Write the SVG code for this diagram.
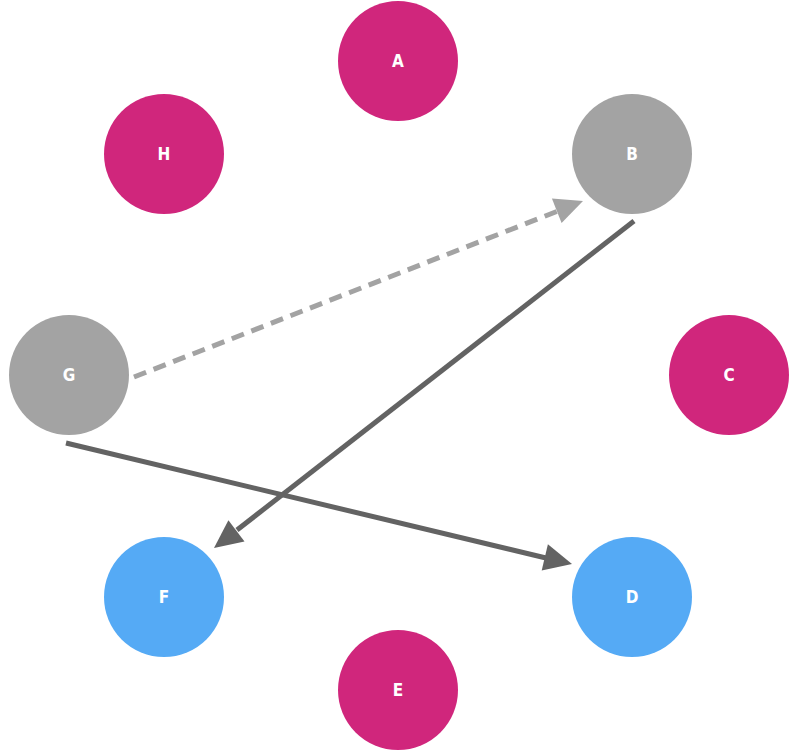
<svg xmlns="http://www.w3.org/2000/svg" width="790" height="751" viewBox="0 0 790 751">
<style>
.pink{fill:#D0267C}
.gray{fill:#A3A3A3}
.blue{fill:#55AAF5}
.lbl{font-family:"DejaVu Sans",sans-serif;font-stretch:condensed;font-weight:bold;font-size:17px;fill:#FFFFFF;text-anchor:middle;dominant-baseline:central}
.solid{stroke:#636363;stroke-width:5;fill:none}
.dash{stroke:#A3A3A3;stroke-width:5;fill:none;stroke-dasharray:13 8}
.hd{fill:#636363}
.hg{fill:#A3A3A3}
</style>
<g id="connectors">
<line class="dash" x1="134" y1="377" x2="558" y2="211"/>
<line class="solid" x1="634" y1="221" x2="237" y2="530"/>
<line class="solid" x1="66" y1="443" x2="546" y2="558"/>
<path class="hg" d="M583,201 L561.6,223.1 L551.9,198.6 Z"/>
<path class="hd" d="M214,548 L244.5,541.5 L228.4,520.3 Z"/>
<path class="hd" d="M572,564 L541.7,570.5 L547.9,544.3 Z"/>
</g>
<g id="A"><circle class="pink" cx="398" cy="61" r="60"/><text class="lbl" x="398" y="61">A</text></g>
<g id="B"><circle class="gray" cx="632" cy="154" r="60"/><text class="lbl" x="632" y="154">B</text></g>
<g id="C"><circle class="pink" cx="729" cy="375" r="60"/><text class="lbl" x="729" y="375">C</text></g>
<g id="D"><circle class="blue" cx="632" cy="597" r="60"/><text class="lbl" x="632" y="597">D</text></g>
<g id="E"><circle class="pink" cx="398" cy="690" r="60"/><text class="lbl" x="398" y="690">E</text></g>
<g id="F"><circle class="blue" cx="164" cy="597" r="60"/><text class="lbl" x="164" y="597">F</text></g>
<g id="G"><circle class="gray" cx="69" cy="375" r="60"/><text class="lbl" x="69" y="375">G</text></g>
<g id="H"><circle class="pink" cx="164" cy="154" r="60"/><text class="lbl" x="164" y="154">H</text></g>
</svg>
